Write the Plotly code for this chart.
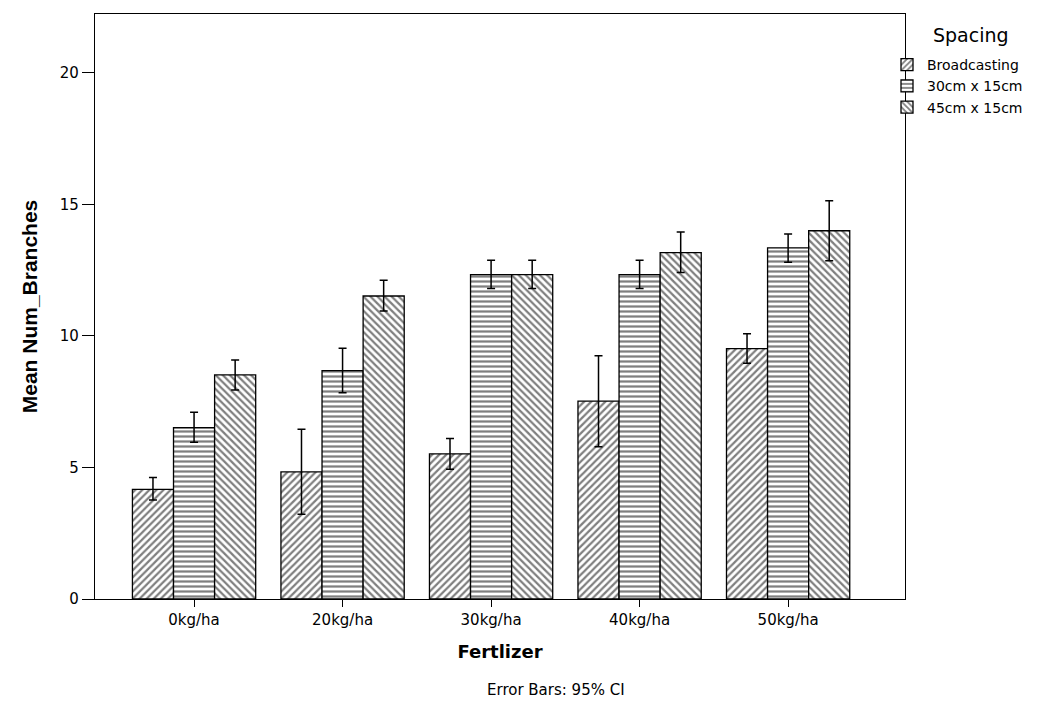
import plotly.graph_objects as go

categories = ["0kg/ha", "20kg/ha", "30kg/ha", "40kg/ha", "50kg/ha"]
series = ["Broadcasting", "30cm x 15cm", "45cm x 15cm"]
means = {
    "Broadcasting": [4.17, 4.83, 5.52, 7.52, 9.52],
    "30cm x 15cm": [6.51, 8.68, 12.33, 12.33, 13.35],
    "45cm x 15cm": [8.52, 11.52, 12.33, 13.17, 14.00],
}
ci_upper = {
    "Broadcasting": [4.62, 6.45, 6.10, 9.25, 10.08],
    "30cm x 15cm": [7.10, 9.53, 12.88, 12.88, 13.88],
    "45cm x 15cm": [9.09, 12.12, 12.88, 13.95, 15.14],
}
ci_lower = {
    "Broadcasting": [3.76, 3.22, 4.93, 5.79, 8.96],
    "30cm x 15cm": [5.96, 7.84, 11.80, 11.80, 12.80],
    "45cm x 15cm": [7.95, 10.95, 11.80, 12.41, 12.86],
}
patterns = {"Broadcasting": "/", "30cm x 15cm": "-", "45cm x 15cm": "\\"}

font = "DejaVu Sans, Liberation Sans, sans-serif"
fig = go.Figure()
for s in series:
    up = [u - m for u, m in zip(ci_upper[s], means[s])]
    lo = [m - l for l, m in zip(ci_lower[s], means[s])]
    fig.add_trace(go.Bar(
        name=s, x=categories, y=means[s],
        marker=dict(color="white", line=dict(color="black", width=1.3),
                    pattern=dict(shape=patterns[s], fgcolor="black", bgcolor="white",
                                 size=5, solidity=0.45)),
        error_y=dict(type="data", symmetric=False, array=up, arrayminus=lo,
                     color="black", thickness=1.5, width=4),
    ))

fig.update_layout(
    width=1050, height=705,
    barmode="group", bargap=0.17, bargroupgap=0,
    plot_bgcolor="white", paper_bgcolor="white",
    margin=dict(l=95, r=145, t=14, b=106),
    font=dict(family=font, color="black", size=14),
    legend=dict(x=(887 - 95) / 810, xanchor="left", y=0.94, yanchor="top",
                bgcolor="rgba(0,0,0,0)",
                font=dict(size=14), itemwidth=30, tracegroupgap=0),
    xaxis=dict(
        range=[-0.667, 4.787],
        showline=True, linecolor="black", linewidth=1.3, mirror=True,
        ticks="outside", ticklen=7, tickcolor="black",
        tickfont=dict(size=15),
        title=dict(text="<b>Fertlizer</b>", font=dict(size=18), standoff=17),
    ),
    yaxis=dict(
        range=[0, 22.24],
        tickvals=[0, 5, 10, 15, 20],
        showgrid=False, zeroline=False,
        showline=True, linecolor="black", linewidth=1.3, mirror=True,
        ticks="outside", ticklen=12, tickcolor="black",
        tickfont=dict(size=15),
        title=dict(text="<b>Mean Num_Branches</b>",
                   font=dict(size=21, family="Liberation Sans, Arial, sans-serif"),
                   standoff=16),
    ),
    annotations=[
        dict(text="Error Bars: 95% CI", x=(556 - 95) / 810, xref="paper",
             y=-(690 - 599) / 585, yref="paper", xanchor="center", yanchor="middle",
             showarrow=False, font=dict(size=15)),
        dict(text="Spacing", x=(971 - 95) / 810, xref="paper",
             y=(599 - 35) / 585, yref="paper", xanchor="center", yanchor="middle",
             showarrow=False, font=dict(size=19)),
    ],
)

fig.write_html("out.html")
